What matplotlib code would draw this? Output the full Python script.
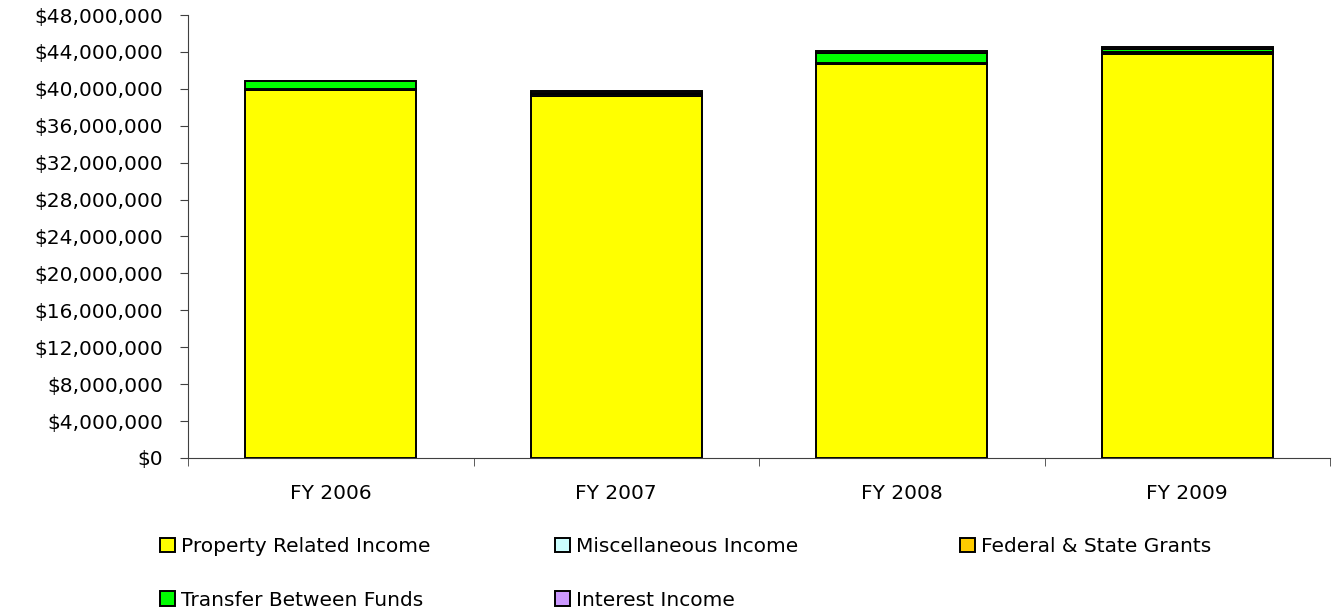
import matplotlib
matplotlib.use("Agg")
import matplotlib.pyplot as plt
import numpy as np
from matplotlib.ticker import FuncFormatter, FixedLocator

categories = ["FY 2006", "FY 2007", "FY 2008", "FY 2009"]
property_income = [39900000, 39250000, 42700000, 43770000]
misc_income = [50000, 150000, 100000, 150000]
grants = [20000, 100000, 50000, 100000]
transfer = [850000, 0, 1000000, 350000]
interest = [50000, 300000, 200000, 200000]

series_names = ["Property Related Income", "Miscellaneous Income", "Federal & State Grants",
                "Transfer Between Funds", "Interest Income"]
series_values = [property_income, misc_income, grants, transfer, interest]
colors = ["#FFFF00", "#CCFFFF", "#FFCC00", "#00FF00", "#CC99FF"]
yticks = list(range(0, 48000001, 4000000))

FS = 14.5
W, H = 1332, 615
fig = plt.figure(figsize=(W / 100, H / 100), dpi=100)
ax = fig.add_axes([188 / W, 1 - 458 / H, (1330 - 188) / W, (458 - 15) / H])

x = np.arange(len(categories))
bottom = np.zeros(len(categories))
handles = []
for name, vals, c in zip(series_names, series_values, colors):
    v = np.array(vals, dtype=float)
    b = ax.bar(x, v, width=0.6, bottom=bottom, color=c, edgecolor="black",
               linewidth=1.4, label=name)
    handles.append(b)
    bottom += v

ax.set_xlim(-0.5, len(categories) - 0.5)
ax.set_ylim(0, 48000000)
ax.set_yticks(yticks)
ax.yaxis.set_major_formatter(FuncFormatter(lambda v, p: "${:,.0f}".format(v)))
ax.set_xticks(x)
ax.set_xticklabels(categories)
ax.xaxis.set_minor_locator(FixedLocator(np.arange(-0.5, len(categories), 1.0)))
ax.tick_params(axis="x", which="major", length=0, pad=19, labelsize=FS)
ax.tick_params(axis="x", which="minor", length=6, color="#404040")
ax.tick_params(axis="y", length=6, pad=12, labelsize=FS, color="#404040")
for s in ["top", "right"]:
    ax.spines[s].set_visible(False)
for s in ["left", "bottom"]:
    ax.spines[s].set_color("#404040")

# legend laid out row-wise in three columns
col_x = [160, 555, 960]
columns = [[0, 3], [1, 4], [2]]
for cx, idx in zip(col_x, columns):
    leg = fig.legend([handles[i] for i in idx], [series_names[i] for i in idx],
                     loc="upper left", bbox_to_anchor=(cx / W, 1 - 537 / H),
                     frameon=False, fontsize=FS, handlelength=0.75, handleheight=0.75,
                     handletextpad=0.3, labelspacing=1.72, borderpad=0, borderaxespad=0)

fig.savefig("out.png", dpi=100)
